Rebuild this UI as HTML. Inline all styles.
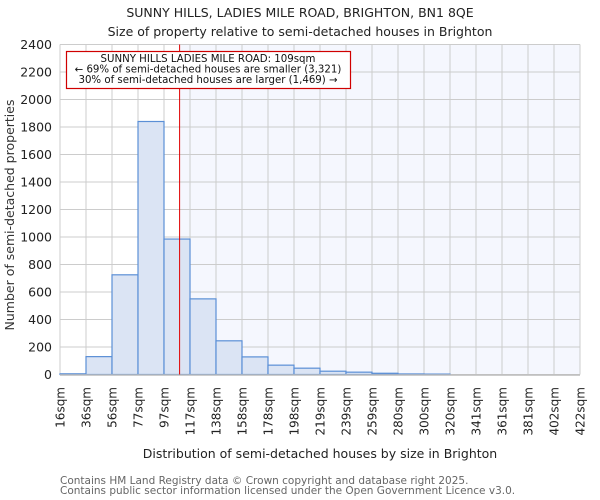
<!DOCTYPE html>
<html><head><meta charset="utf-8"><style>
body{margin:0;background:#fff}
svg{display:block;font-family:"DejaVu Sans","Liberation Sans",sans-serif}
</style></head><body>
<svg id="chart" width="600" height="500">
<text x="300" y="17" text-anchor="middle" font-size="12.5" fill="#222">SUNNY HILLS, LADIES MILE ROAD, BRIGHTON, BN1 8QE</text>
<text x="300" y="36" text-anchor="middle" font-size="12.5" fill="#222">Size of property relative to semi-detached houses in Brighton</text>
<g id="plot"></g>
<text transform="translate(14,215) rotate(-90)" text-anchor="middle" font-size="12.5" fill="#333">Number of semi-detached properties</text>
<text x="320" y="458" text-anchor="middle" font-size="12.5" fill="#222">Distribution of semi-detached houses by size in Brighton</text>
<text x="60" y="484" font-size="10.5" fill="#666">Contains HM Land Registry data © Crown copyright and database right 2025.</text>
<text x="60" y="494" font-size="10.5" fill="#666">Contains public sector information licensed under the Open Government Licence v3.0.</text>
</svg>
<script>
const binLabels=["16sqm","36sqm","56sqm","77sqm","97sqm","117sqm","138sqm","158sqm","178sqm","198sqm","219sqm","239sqm","259sqm","280sqm","300sqm","320sqm","341sqm","361sqm","381sqm","402sqm","422sqm"];
const counts=[5,130,725,1840,985,550,245,128,68,46,24,17,9,4,3,0,0,0,0,0];
const yTicks=[0,200,400,600,800,1000,1200,1400,1600,1800,2000,2200,2400];
const markerBin=4.6;
const L=60,R=580,T=44.5,B=374.5,yMax=2400;
const n=counts.length,bw=(R-L)/n;
const xs=i=>L+i*bw;
const ys=v=>B-(B-T)*v/yMax;
const NS="http://www.w3.org/2000/svg";
const g=document.getElementById('plot');
function mk(t,a,p){const e=document.createElementNS(NS,t);for(const k in a)e.setAttribute(k,a[k]);(p||g).appendChild(e);return e;}
const mx=xs(markerBin);
const bg=mk('rect',{x:mx,y:T,width:R-mx,height:B-T,fill:'#f5f7fe'});


yTicks.forEach(v=>{
 const l=mk('line',{x1:L,x2:R,y1:ys(v),y2:ys(v),stroke:'#cccccc','stroke-width':1});
 
 
 const t=mk('text',{x:L-8,y:ys(v)+4.5,'text-anchor':'end','font-size':12.5,fill:'#222'});
 t.textContent=v;
 
 
});
binLabels.forEach((s,i)=>{
 const l=mk('line',{x1:xs(i),x2:xs(i),y1:T,y2:B,stroke:'#cccccc','stroke-width':1});
 
 
 const t=mk('text',{transform:`translate(${xs(i)+4.5},387) rotate(-90)`,'text-anchor':'end','font-size':12,fill:'#222'});
 t.textContent=s;
 
 
});
counts.forEach((v,i)=>{
 if(v<=0)return;
 const r=mk('rect',{x:xs(i),y:ys(v),width:bw,height:B-ys(v),fill:'#dbe4f4',stroke:'#5b8fd6','stroke-width':1.2});
 
 
});
const ax=mk('line',{x1:L,x2:R,y1:B+0.5,y2:B+0.5,stroke:'#bbb','stroke-width':1.5});


const ml=mk('line',{x1:mx,x2:mx,y1:T,y2:B,stroke:'#e00000','stroke-width':1});


const box=mk('rect',{x:66.5,y:51.5,width:284,height:37,fill:'#fff',stroke:'#d00000','stroke-width':1.2});


["SUNNY HILLS LADIES MILE ROAD: 109sqm","← 69% of semi-detached houses are smaller (3,321)","30% of semi-detached houses are larger (1,469) →"].forEach((s,i)=>{
 const t=mk('text',{x:208,y:62+i*10.5,'text-anchor':'middle','font-size':10.2,fill:'#111'});
 t.textContent=s;
 
 
});
</script>
</body></html>
